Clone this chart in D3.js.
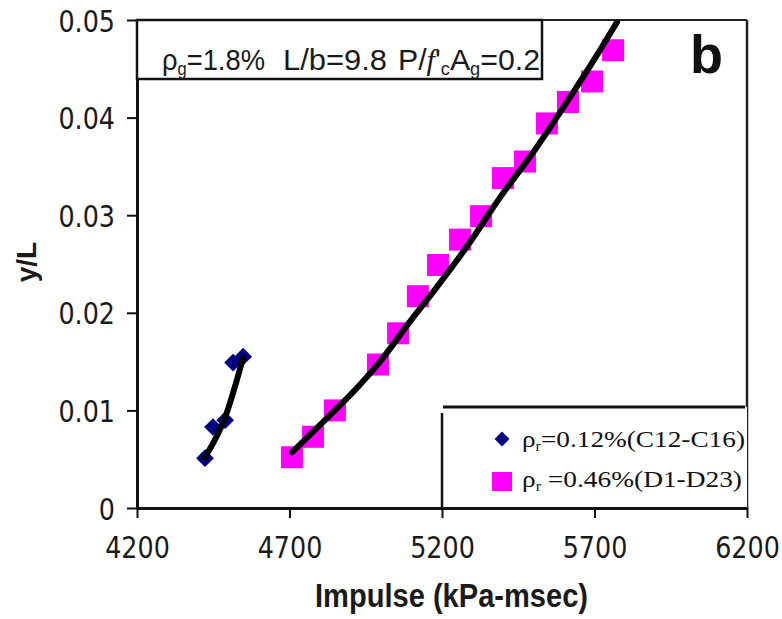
<!DOCTYPE html>
<html><head><meta charset="utf-8">
<script src="https://cdn.jsdelivr.net/npm/d3@7"></script>
<style>body{margin:0;background:#fff}</style>
</head><body><svg id="c" width="782" height="619"></svg>
<script>
// ---- data ----
const xTicks = [4200, 4700, 5200, 5700, 6200];
const yTicks = [0, 0.01, 0.02, 0.03, 0.04, 0.05];
// rho = 0.12% (C12-C16)
const cImpulse = [4423, 4449, 4489, 4515, 4548];
const cDrift   = [0.0051, 0.0083, 0.0090, 0.0149, 0.0155];
// rho = 0.46% (D1-D23)
const dImpulse = [4708, 4777, 4849, 4990, 5056, 5121, 5187, 5259, 5328, 5400, 5472, 5544, 5613, 5692, 5761];
const dDrift   = [0.0052, 0.0073, 0.0100, 0.0147, 0.0179, 0.0217, 0.0249, 0.0275, 0.0299, 0.0338, 0.0355, 0.0394, 0.0416, 0.0437, 0.0469];
// trend lines
const cTrendImpulse = [4423, 4489, 4548];
const cTrendDrift   = [0.0052, 0.0093, 0.0154];
const dTrendImpulse = [4708, 4777, 4849, 4921, 4997, 5095, 5170, 5282, 5390, 5498, 5597, 5708, 5774];
const dTrendDrift   = [0.0057, 0.0078, 0.0100, 0.0123, 0.0150, 0.0191, 0.0221, 0.0268, 0.0318, 0.0364, 0.0410, 0.0464, 0.0498];

const svg = d3.select('#c');
const x = d3.scaleLinear().domain([4200, 6200]).range([137, 747]);
const y = d3.scaleLinear().domain([0, 0.05]).range([508, 20]);

svg.append('defs').append('clipPath').attr('id','clip')
  .append('rect').attr('x',137).attr('y',20).attr('width',610).attr('height',488);

// plot frame (top & right)
svg.append('line').attr('x1',137).attr('x2',747).attr('y1',20).attr('y2',20).attr('stroke','#222').attr('stroke-width',2);
svg.append('line').attr('x1',747).attr('x2',747).attr('y1',20).attr('y2',508).attr('stroke','#222').attr('stroke-width',2.5);

// legend box
svg.append('rect').attr('x',442).attr('y',407).attr('width',305).attr('height',101).attr('fill','#fff');
svg.append('line').attr('x1',443).attr('x2',745).attr('y1',407).attr('y2',407).attr('stroke','#111').attr('stroke-width',3);
svg.append('line').attr('x1',442).attr('x2',442).attr('y1',413).attr('y2',508).attr('stroke','#111').attr('stroke-width',2.5);

// axes
const xAxis = svg.append('g').attr('transform','translate(0,508)')
  .call(d3.axisBottom(x).tickValues(xTicks).tickSize(10).tickSizeOuter(0).tickFormat(d => String(d)));
xAxis.select('.domain').attr('stroke','#111').attr('stroke-width',3);
xAxis.selectAll('.tick line').attr('stroke','#111').attr('stroke-width',2);
xAxis.selectAll('.tick text').attr('y',50).attr('dy',0)
  .attr('transform','scale(0.82,1)')
  .style('font-family','"DejaVu Sans", sans-serif').style('font-size','31px').attr('fill','#1a1a1a');

const yAxis = svg.append('g').attr('transform','translate(137,0)')
  .call(d3.axisLeft(y).tickValues(yTicks).tickSize(10).tickSizeOuter(0).tickFormat(d => d === 0 ? '0' : d.toFixed(2)));
yAxis.select('.domain').attr('stroke','#111').attr('stroke-width',3);
yAxis.selectAll('.tick line').attr('stroke','#111').attr('stroke-width',2);
yAxis.selectAll('.tick text').attr('x',-22/0.82).attr('dy','0.36em')
  .attr('transform','scale(0.82,1)')
  .style('font-family','"DejaVu Sans", sans-serif').style('font-size','31px').attr('fill','#1a1a1a');

// axis titles
svg.append('text').attr('x',315).attr('y',607).attr('textLength',273).attr('lengthAdjust','spacingAndGlyphs')
  .style('font-family','"Liberation Sans", Arial, sans-serif').style('font-size','33px').style('font-weight','bold')
  .attr('fill','#1a1a1a').text('Impulse (kPa-msec)');
svg.append('text').attr('transform','translate(36,262) rotate(-90)').attr('text-anchor','middle')
  .style('font-family','"Liberation Sans", Arial, sans-serif').style('font-size','28px').style('font-weight','bold')
  .attr('fill','#1a1a1a').text('y/L');

// annotation box
svg.append('rect').attr('x',137).attr('y',20).attr('width',405).attr('height',59).attr('fill','#fff').attr('stroke','#111').attr('stroke-width',2.5);
const annStyle = s => s.style('font-family','"Liberation Sans", Arial, sans-serif').style('font-size','30px').attr('fill','#1a1a1a');
const a1 = svg.append('text').attr('x',162).attr('y',70).attr('textLength',103).attr('lengthAdjust','spacingAndGlyphs').call(annStyle);
a1.append('tspan').text('ρ');
a1.append('tspan').attr('dy',5).style('font-size','18px').text('g');
a1.append('tspan').attr('dy',-5).text('=1.8%');
svg.append('text').attr('x',283).attr('y',70).attr('textLength',104).attr('lengthAdjust','spacingAndGlyphs').call(annStyle).text('L/b=9.8');
const a3 = svg.append('text').attr('x',398).attr('y',70).attr('textLength',142).attr('lengthAdjust','spacingAndGlyphs').call(annStyle);
a3.append('tspan').text('P/');
a3.append('tspan').style('font-style','italic').style('font-family','"Liberation Serif", serif').text('f');
a3.append('tspan').text('\'');
a3.append('tspan').attr('dy',5).style('font-size','18px').text('c');
a3.append('tspan').attr('dy',-5).text('A');
a3.append('tspan').attr('dy',5).style('font-size','18px').text('g');
a3.append('tspan').attr('dy',-5).text('=0.2');

// panel label
svg.append('text').attr('x',690).attr('y',73)
  .style('font-family','"Liberation Sans", Arial, sans-serif').style('font-size','54px').style('font-weight','bold')
  .attr('fill','#111').text('b');

// data
const plot = svg.append('g').attr('clip-path','url(#clip)');
const dData = dImpulse.map((v,i) => ({x:v, y:dDrift[i]}));
const cData = cImpulse.map((v,i) => ({x:v, y:cDrift[i]}));
const sq = 22;
plot.selectAll('.sq').data(dData).enter().append('rect')
  .attr('x', d => x(d.x) - sq/2).attr('y', d => y(d.y) - sq/2)
  .attr('width', sq).attr('height', sq).attr('fill','#ff00ff');
const diamond = d3.symbol().type(d3.symbolDiamond2).size(200);
plot.selectAll('.dm').data(cData).enter().append('path')
  .attr('d', diamond).attr('transform', d => `translate(${x(d.x)},${y(d.y)})`)
  .attr('fill','#000080');

const line = d3.line().x(d => x(d.x)).y(d => y(d.y)).curve(d3.curveMonotoneX);
plot.append('path').datum(dTrendImpulse.map((v,i)=>({x:v,y:dTrendDrift[i]})))
  .attr('d', line).attr('fill','none').attr('stroke','#000').attr('stroke-width',6).attr('stroke-linecap','round');
plot.append('path').datum(cTrendImpulse.map((v,i)=>({x:v,y:cTrendDrift[i]})))
  .attr('d', line).attr('fill','none').attr('stroke','#000').attr('stroke-width',6).attr('stroke-linecap','round');

// legend entries
svg.append('path').attr('d', d3.symbol().type(d3.symbolDiamond2).size(140)).attr('transform','translate(502,439)').attr('fill','#000080');
svg.append('rect').attr('x',492).attr('y',472).attr('width',20).attr('height',19).attr('fill','#ff00ff');
const legStyle = s => s.style('font-family','"Liberation Serif", "Times New Roman", serif').style('font-size','24px').attr('fill','#111');
const l1 = svg.append('text').attr('x',522).attr('y',447).attr('textLength',223).attr('lengthAdjust','spacingAndGlyphs').call(legStyle);
l1.append('tspan').text('ρ');
l1.append('tspan').attr('dy',4).style('font-size','14px').text('r');
l1.append('tspan').attr('dy',-4).text('=0.12%(C12-C16)');
const l2 = svg.append('text').attr('x',522).attr('y',487).attr('textLength',220).attr('lengthAdjust','spacingAndGlyphs').call(legStyle);
l2.append('tspan').text('ρ');
l2.append('tspan').attr('dy',4).style('font-size','14px').text('r');
l2.append('tspan').attr('dy',-4).text(' =0.46%(D1-D23)');
</script></body></html>
